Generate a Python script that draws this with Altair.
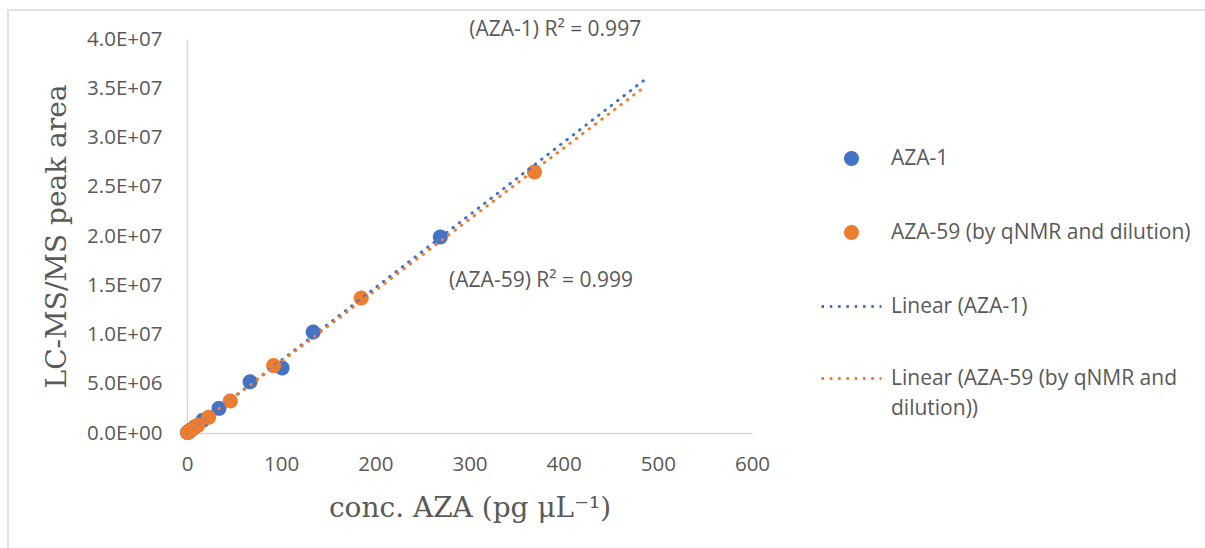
import altair as alt
import pandas as pd

# ---- data ----
aza1_x = [0.5, 1.05, 2.1, 4.2, 8.4, 17, 34, 67, 101, 134, 269]
aza1_y = [0.04e6, 0.08e6, 0.16e6, 0.31e6, 0.62e6, 1.3e6, 2.5e6, 5.2e6, 6.6e6, 10.25e6, 19.9e6]
aza59_x = [0.72, 1.45, 2.9, 5.8, 11.6, 23, 46, 92, 185, 369]
aza59_y = [0.05e6, 0.1e6, 0.2e6, 0.4e6, 0.8e6, 1.6e6, 3.25e6, 6.85e6, 13.7e6, 26.5e6]

series_names = ["AZA-1", "AZA-59 (by qNMR and dilution)"]
trend_names = ["Linear (AZA-1)", "Linear (AZA-59 (by qNMR and dilution))"]
trend_end = [487, 482]
colors = ["#4472C4", "#ED7D31"]

x_ticks = [0, 100, 200, 300, 400, 500, 600]
y_ticks = [0, 5e6, 1e7, 1.5e7, 2e7, 2.5e7, 3e7, 3.5e7, 4e7]

ann_text = ["(AZA-1) R\u00b2 = 0.997", "(AZA-59) R\u00b2 = 0.999"]
ann_x = [391, 376]
ann_y = [4.09e7, 1.54e7]

# ---- tables ----
df = pd.DataFrame({
    "conc": aza1_x + aza59_x,
    "area": aza1_y + aza59_y,
    "series": [series_names[0]] * len(aza1_x) + [series_names[1]] * len(aza59_x),
})
ann = pd.DataFrame({"x": ann_x, "y": ann_y, "t": ann_text})

TXT = "#595959"
LAB_FONT = "Open Sans"
SERIF = "DejaVu Serif"
DOTS = [0.5, 7.5]
LEG_DOTS = [2.5, 5.8]
SYM = 3600  # legend symbol area -> 60 px wide dotted line
CIRCLE = "M-0.2,0A0.2,0.2,0,1,1,0.2,0A0.2,0.2,0,1,1,-0.2,0Z"  # radius 6 px at SYM
domain = series_names + trend_names
color_scale = alt.Scale(domain=domain, range=colors + colors)

x_enc = alt.X(
    "conc:Q",
    scale=alt.Scale(domain=[0, 600], nice=False),
    axis=alt.Axis(values=x_ticks, title="conc. AZA (pg \u03bcL\u207b\u00b9)", grid=False, ticks=False,
                  labelFlush=False, labelPadding=21, titlePadding=20,
                  domainColor="#d9d9d9", domainWidth=1.5,
                  labelFont=LAB_FONT, labelFontSize=20.5, labelColor=TXT,
                  titleFont=SERIF, titleFontSize=28, titleFontWeight="normal", titleColor=TXT),
)
y_enc = alt.Y(
    "area:Q",
    scale=alt.Scale(domain=[0, 4e7], nice=False),
    axis=alt.Axis(values=y_ticks, title="LC-MS/MS peak area", grid=False, ticks=False,
                  labelExpr="replace(replace(format(datum.value, '.1e'), 'e+', 'E+0'), 'e-', 'E-0')",
                  labelFlush=False, labelPadding=25, titlePadding=15,
                  domainColor="#d9d9d9", domainWidth=1.5,
                  labelFont=LAB_FONT, labelFontSize=20.5, labelColor=TXT,
                  titleFont=SERIF, titleFontSize=28, titleFontWeight="normal", titleColor=TXT),
)

legend = alt.Legend(
    title=None, orient="none", legendX=633, legendY=88, padding=0,
    rowPadding=30, labelOffset=8, labelLimit=500, symbolStrokeWidth=3, symbolSize=SYM,
    labelFont=LAB_FONT, labelFontSize=21, labelColor=TXT,
    labelExpr="datum.label == 'Linear (AZA-59 (by qNMR and dilution))' ? ['Linear (AZA-59 (by qNMR and', 'dilution))'] : datum.label",
)

border = alt.Chart(pd.DataFrame({"k": [0]})).mark_rect(
    fill="transparent", stroke="#d9d9d9", strokeWidth=1.5
).encode(x=alt.value(-179), x2=alt.value(1030), y=alt.value(-29), y2=alt.value(520))

points = alt.Chart(df).mark_point(filled=False, opacity=1, strokeWidth=3, size=SYM).encode(
    x=x_enc, y=y_enc,
    color=alt.Color("series:N", scale=color_scale, legend=legend),
    fill=alt.Fill("series:N", scale=alt.Scale(domain=domain, range=colors + colors), legend=legend),
    shape=alt.Shape("series:N", scale=alt.Scale(domain=domain, range=[CIRCLE, CIRCLE, "stroke", "stroke"]), legend=legend),
    strokeDash=alt.StrokeDash("series:N", scale=alt.Scale(domain=domain, range=[[1, 0], [1, 0], LEG_DOTS, LEG_DOTS]), legend=legend),
    order=alt.Order("series:N"),
)

lines = []
for name, tname, end in zip(series_names, trend_names, trend_end):
    lines.append(
        alt.Chart(df).transform_filter(alt.datum.series == name)
        .transform_regression("conc", "area", extent=[0, end])
        .transform_calculate(series=f"'{tname}'")
        .mark_line(strokeDash=DOTS, strokeWidth=3, strokeCap="round")
        .encode(x="conc:Q", y="area:Q",
                color=alt.Color("series:N", scale=color_scale, legend=None))
    )

labels = alt.Chart(ann).mark_text(font=LAB_FONT, fontSize=21, color=TXT).encode(
    x="x:Q", y="y:Q", text="t:N"
)

chart = alt.layer(border, points, *lines, labels).properties(
    width=565, height=394,
    autosize=alt.AutoSizeParams(type="none"),
    padding={"left": 187, "top": 39, "right": 453, "bottom": 115},
    background="white",
).configure(
    view={"stroke": None},
    style={"guide-label": {"lineHeight": 30}},
)

chart.save("out.html", embed_options={"renderer": "svg", "actions": False})
